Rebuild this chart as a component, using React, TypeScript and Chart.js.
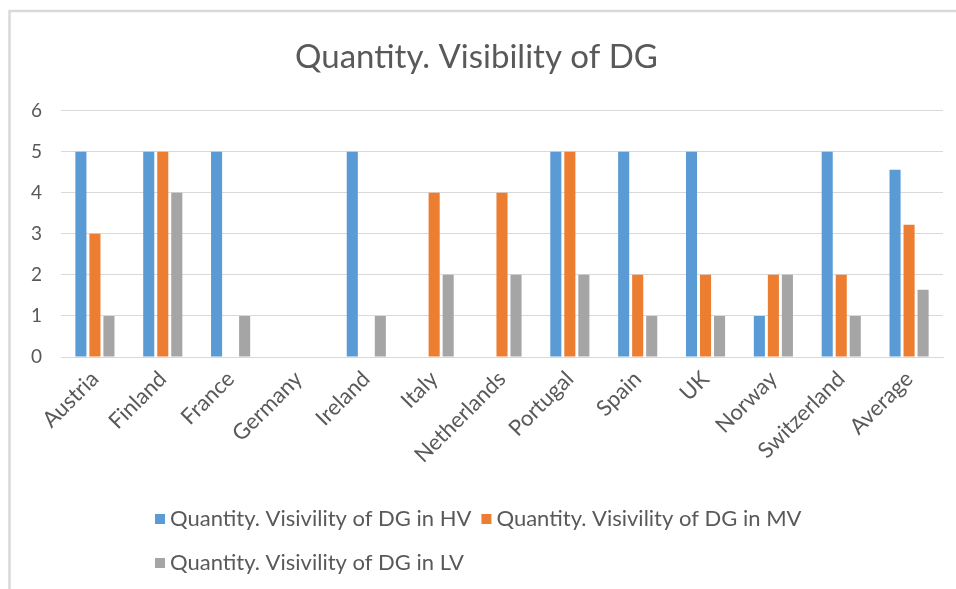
import React, { useEffect, useRef } from "react";
import { Chart, registerables } from "chart.js";
Chart.register(...registerables);

const categories = ["Austria", "Finland", "France", "Germany", "Ireland", "Italy", "Netherlands", "Portugal", "Spain", "UK", "Norway", "Switzerland", "Average"];
const seriesNames = ["Quantity. Visivility of DG in HV", "Quantity. Visivility of DG in MV", "Quantity. Visivility of DG in LV"];
const hvValues = [5, 5, 5, 0, 5, 0, 0, 5, 5, 5, 1, 5, 4.56];
const mvValues = [3, 5, 0, 0, 0, 4, 4, 5, 2, 2, 2, 2, 3.22];
const lvValues = [1, 4, 1, 0, 1, 2, 2, 2, 1, 1, 2, 1, 1.64];
const yTicks = [0, 1, 2, 3, 4, 5, 6];
const colors = ["#5b9bd5", "#ed7d31", "#a5a5a5"];
const titleText = "Quantity. Visibility of DG";

const FONT = "Lato, 'Liberation Sans', sans-serif";
const TEXT = "#595959";

export default function App() {
  const ref = useRef<HTMLCanvasElement>(null);
  useEffect(() => {
    const framePlugin = {
      id: "frame",
      beforeDraw(chart: any) {
        const ctx = chart.ctx;
        ctx.save();
        ctx.fillStyle = "#ffffff";
        ctx.fillRect(0, 0, chart.width, chart.height);
        ctx.strokeStyle = "#d9d9d9";
        ctx.lineWidth = 2.5;
        ctx.strokeRect(9.5, 11, 1200, 1200);
        ctx.restore();
      },
    };
    const legendPlugin = {
      id: "customLegend",
      afterDraw(chart: any) {
        const ctx = chart.ctx;
        ctx.save();
        ctx.font = `22px ${FONT}`;
        ctx.textBaseline = "middle";
        ctx.textAlign = "left";
        const box = 10, gap = 5, spacing = 10;
        const ds = chart.data.datasets;
        const w = (i: number) => box + gap + ctx.measureText(ds[i].label).width;
        const row1 = w(0) + spacing + w(1);
        const x0 = Math.round(chart.width / 2 - row1 / 2);
        const rows = [[0, 1], [2]];
        const ys = [519, 563];
        rows.forEach((row, r) => {
          let x = x0;
          row.forEach((i) => {
            ctx.fillStyle = ds[i].backgroundColor;
            ctx.fillRect(x, ys[r] - 5, box, box);
            ctx.fillStyle = TEXT;
            ctx.fillText(ds[i].label, x + box + gap, ys[r]);
            x += w(i) + spacing;
          });
        });
        ctx.restore();
      },
    };
    const chart = new Chart(ref.current as HTMLCanvasElement, {
      type: "bar",
      data: {
        labels: categories,
        datasets: [hvValues, mvValues, lvValues].map((d, i) => ({
          label: seriesNames[i],
          data: d,
          backgroundColor: colors[i],
          borderWidth: 0,
          barPercentage: 0.79,
          categoryPercentage: 0.62,
        })),
      },
      options: {
        responsive: false,
        animation: false,
        devicePixelRatio: 1,
        layout: { padding: { left: 10, right: 13, top: 0, bottom: 122 } },
        plugins: {
          legend: { display: false },
          tooltip: { enabled: false },
          title: {
            display: true,
            text: titleText,
            color: TEXT,
            font: { family: FONT, size: 33, weight: "normal" },
            padding: { top: 38, bottom: 33 },
          },
        },
        scales: {
          x: {
            grid: { display: false },
            border: { display: true, color: "#d9d9d9", width: 1 },
            ticks: {
              color: TEXT,
              font: { family: FONT, size: 22 },
              minRotation: 45,
              maxRotation: 45,
              autoSkip: false,
              padding: 1,
            },
            afterFit: (s: any) => { s.height = 110; },
          },
          y: {
            min: 0,
            max: 6,
            afterBuildTicks: (s: any) => { s.ticks = yTicks.map((v) => ({ value: v })); },
            grid: { color: "#d9d9d9", drawTicks: false },
            border: { display: false },
            ticks: { color: TEXT, font: { family: FONT, size: 19 }, padding: 19 },
            afterFit: (s: any) => { s.width = 51; },
          },
        },
      },
      plugins: [framePlugin, legendPlugin],
    });
    return () => chart.destroy();
  }, []);
  return (
    <div style={{ position: "fixed", left: 0, top: 0, width: 956, height: 589, background: "#fff" }}>
      <canvas ref={ref} width={956} height={589} style={{ display: "block" }} />
    </div>
  );
}
